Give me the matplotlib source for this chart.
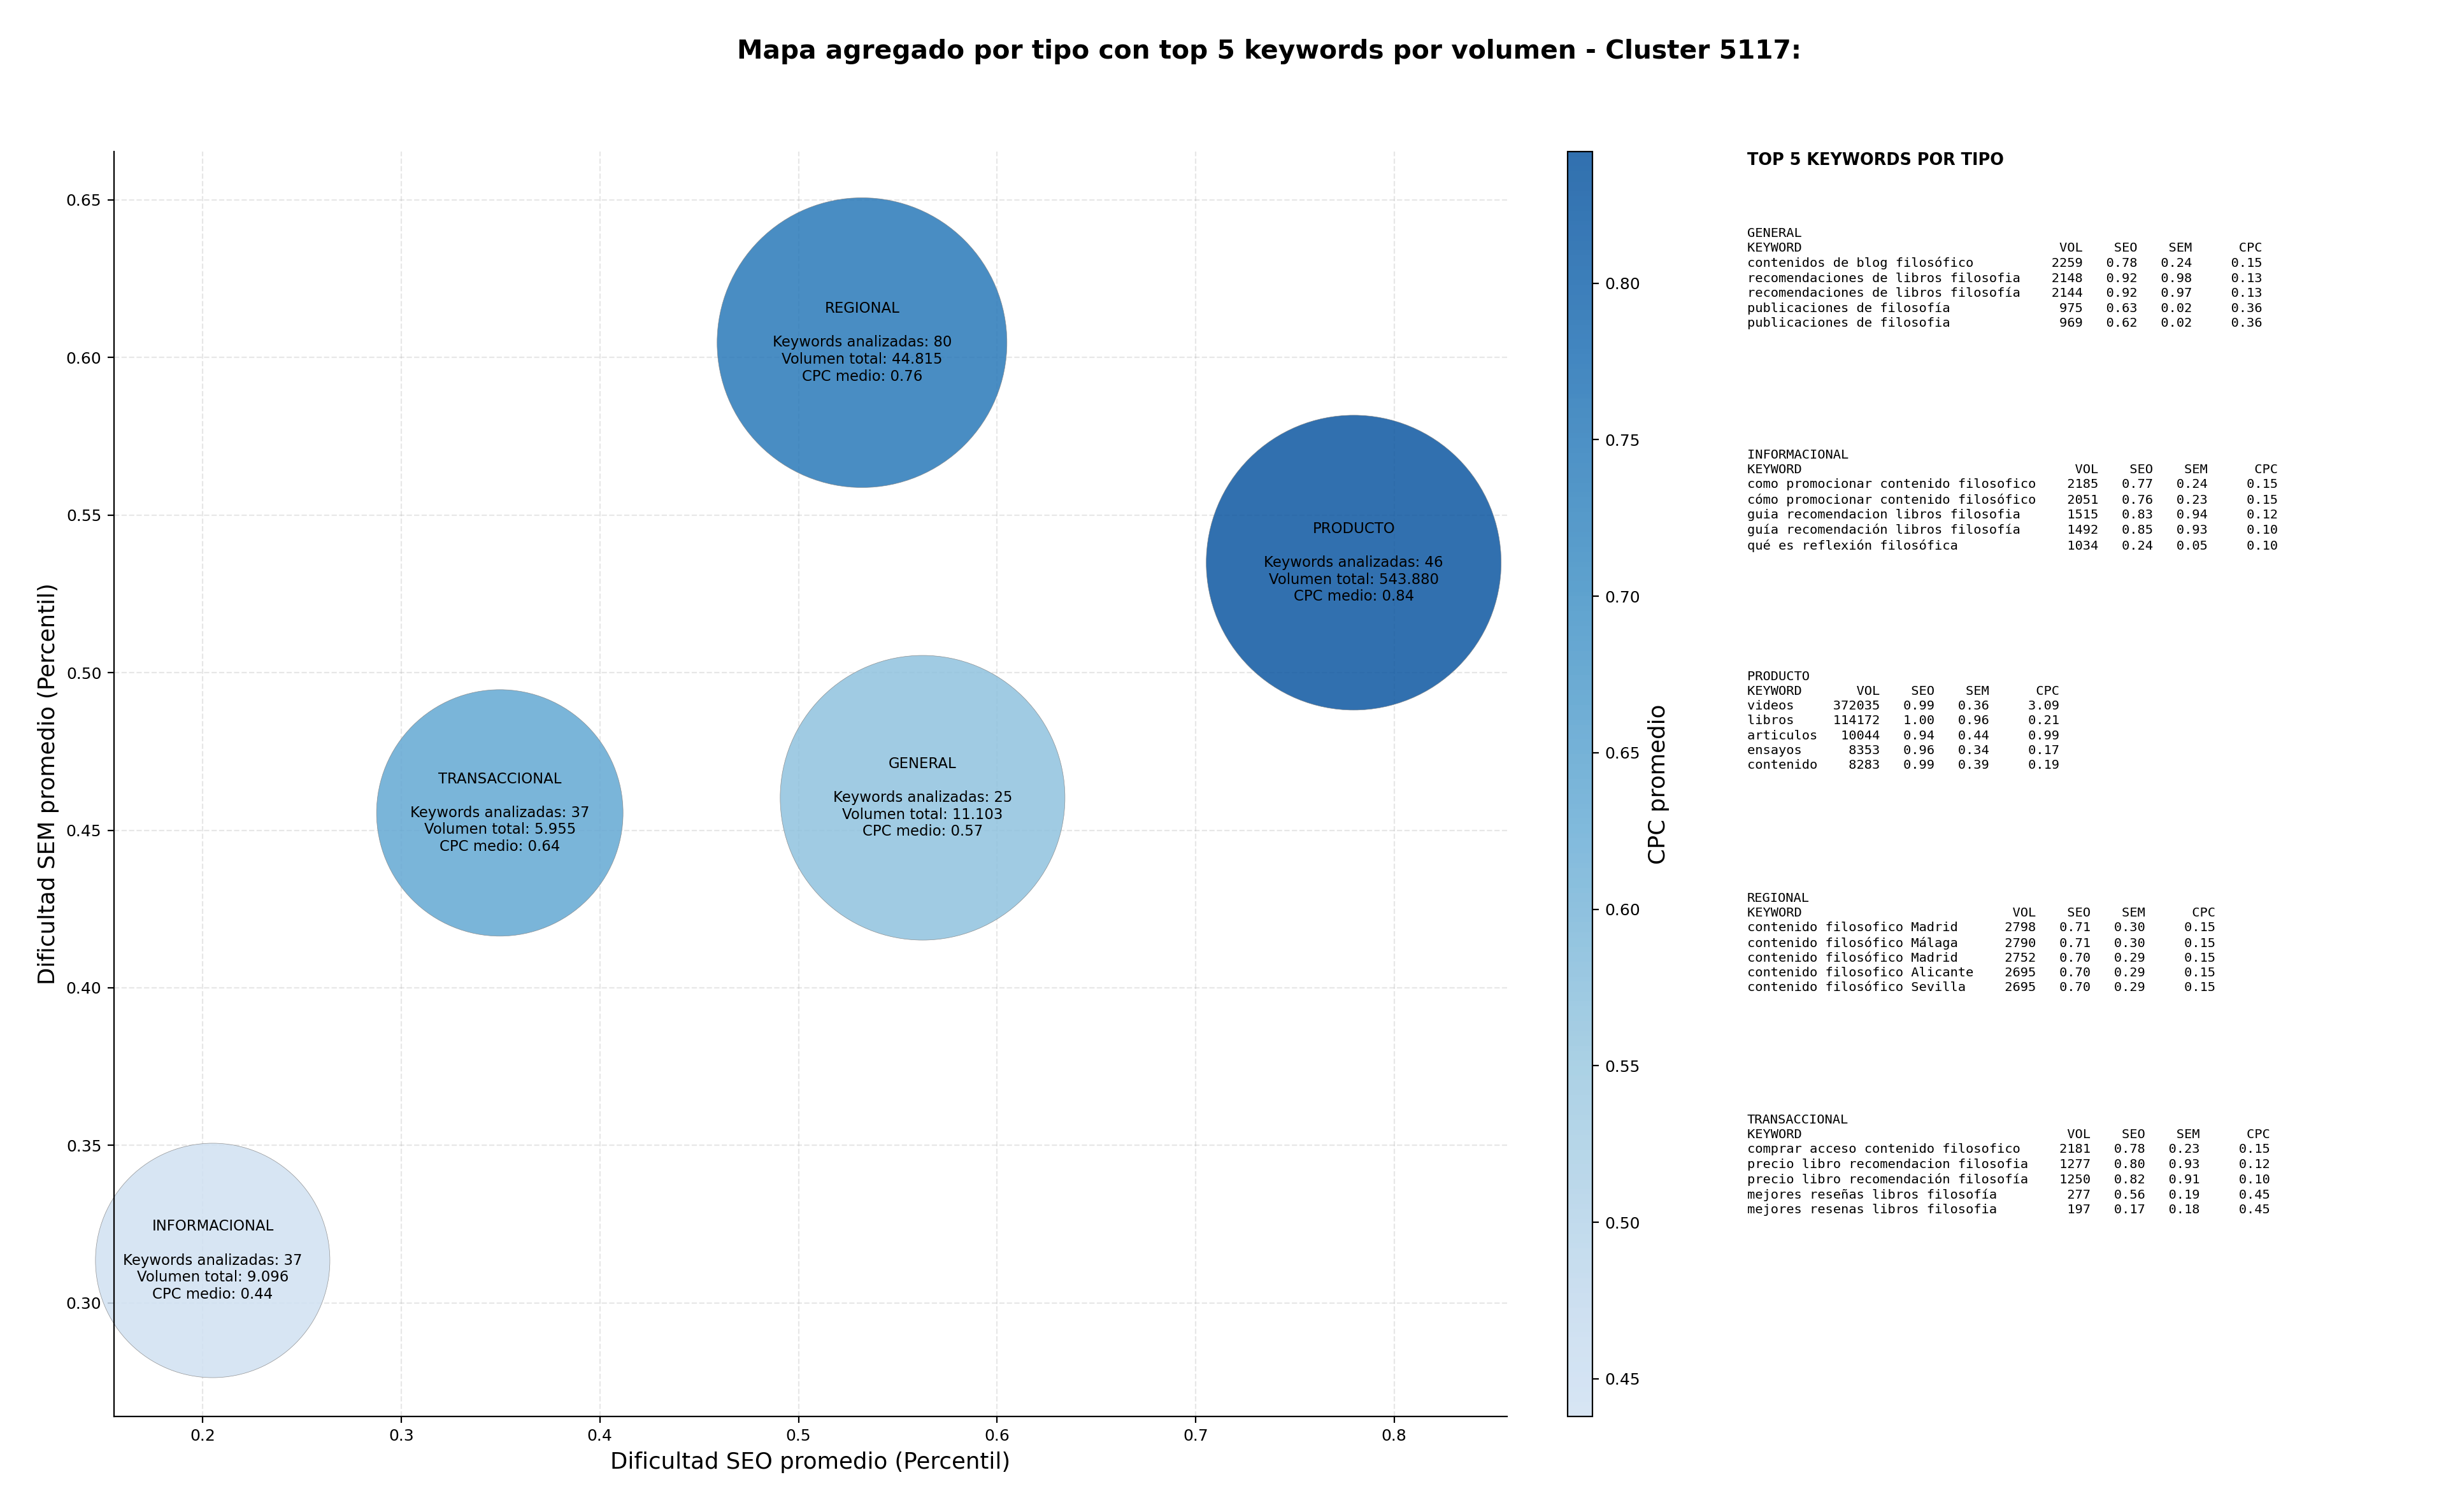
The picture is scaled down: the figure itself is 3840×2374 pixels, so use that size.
import matplotlib
matplotlib.use("Agg")
import matplotlib.pyplot as plt
from matplotlib.colors import LinearSegmentedColormap
import numpy as np

# datos agregados por tipo
tipos = ["GENERAL", "INFORMACIONAL", "PRODUCTO", "REGIONAL", "TRANSACCIONAL"]
seo_medio = [0.5625, 0.205, 0.7796, 0.532, 0.3496]
sem_medio = [0.4603, 0.3135, 0.5349, 0.6047, 0.4555]
cpc_medio = [0.57, 0.438, 0.842, 0.76, 0.64]
n_keywords = [25, 37, 46, 80, 37]
volumen_total = [11103, 9096, 543880, 44815, 5955]
# area de burbuja (pt^2)
area_burbuja = [25896, 17556, 27782, 26830, 19408]

# top 5 keywords por tipo: (keyword, vol, seo, sem, cpc)
top_general = [
    ("contenidos de blog filosófico", 2259, 0.78, 0.24, 0.15),
    ("recomendaciones de libros filosofia", 2148, 0.92, 0.98, 0.13),
    ("recomendaciones de libros filosofía", 2144, 0.92, 0.97, 0.13),
    ("publicaciones de filosofía", 975, 0.63, 0.02, 0.36),
    ("publicaciones de filosofia", 969, 0.62, 0.02, 0.36),
]
top_informacional = [
    ("como promocionar contenido filosofico", 2185, 0.77, 0.24, 0.15),
    ("cómo promocionar contenido filosófico", 2051, 0.76, 0.23, 0.15),
    ("guia recomendacion libros filosofia", 1515, 0.83, 0.94, 0.12),
    ("guía recomendación libros filosofía", 1492, 0.85, 0.93, 0.10),
    ("qué es reflexión filosófica", 1034, 0.24, 0.05, 0.10),
]
top_producto = [
    ("videos", 372035, 0.99, 0.36, 3.09),
    ("libros", 114172, 1.00, 0.96, 0.21),
    ("articulos", 10044, 0.94, 0.44, 0.99),
    ("ensayos", 8353, 0.96, 0.34, 0.17),
    ("contenido", 8283, 0.99, 0.39, 0.19),
]
top_regional = [
    ("contenido filosofico Madrid", 2798, 0.71, 0.30, 0.15),
    ("contenido filosófico Málaga", 2790, 0.71, 0.30, 0.15),
    ("contenido filosófico Madrid", 2752, 0.70, 0.29, 0.15),
    ("contenido filosofico Alicante", 2695, 0.70, 0.29, 0.15),
    ("contenido filosófico Sevilla", 2695, 0.70, 0.29, 0.15),
]
top_transaccional = [
    ("comprar acceso contenido filosofico", 2181, 0.78, 0.23, 0.15),
    ("precio libro recomendacion filosofia", 1277, 0.80, 0.93, 0.12),
    ("precio libro recomendación filosofía", 1250, 0.82, 0.91, 0.10),
    ("mejores reseñas libros filosofía", 277, 0.56, 0.19, 0.45),
    ("mejores resenas libros filosofia", 197, 0.17, 0.18, 0.45),
]
tops = [top_general, top_informacional, top_producto, top_regional, top_transaccional]

fig = plt.figure(figsize=(19.2, 11.87), dpi=200)
ax = fig.add_axes([0.0466, 0.0632, 0.5695, 0.8365])
cax = fig.add_axes([0.6409, 0.0632, 0.0102, 0.8365])

cmap = LinearSegmentedColormap.from_list("blues_t", plt.cm.Blues(np.linspace(0.2, 0.85, 256)))

sc = ax.scatter(seo_medio, sem_medio, s=area_burbuja, c=cpc_medio, cmap=cmap,
                alpha=0.85, edgecolors="grey", linewidths=0.25, clip_on=False)

for i, t in enumerate(tipos):
    vol = f"{volumen_total[i]:,}".replace(",", ".")
    txt = f"{t}\n\nKeywords analizadas: {n_keywords[i]}\nVolumen total: {vol}\nCPC medio: {cpc_medio[i]:.2f}"
    ax.text(seo_medio[i], sem_medio[i], txt, ha="center", va="center", fontsize=8.2)

ax.set_xlim(0.1553, 0.8568)
ax.set_ylim(0.264, 0.6653)
ax.set_xticks([0.2, 0.3, 0.4, 0.5, 0.6, 0.7, 0.8])
ax.set_yticks([0.30, 0.35, 0.40, 0.45, 0.50, 0.55, 0.60, 0.65])
ax.tick_params(labelsize=9)
ax.grid(True, linestyle="--", alpha=0.3)
ax.set_axisbelow(True)
ax.spines["top"].set_visible(False)
ax.spines["right"].set_visible(False)
ax.set_xlabel("Dificultad SEO promedio (Percentil)", fontsize=12.8)
ax.set_ylabel("Dificultad SEM promedio (Percentil)", fontsize=12.8)

cb = fig.colorbar(sc, cax=cax)
cb.set_label("CPC promedio", fontsize=12.8)
cb.ax.tick_params(labelsize=9)

fig.text(0.519, 0.9659, "Mapa agregado por tipo con top 5 keywords por volumen - Cluster 5117:",
         ha="center", va="center", fontsize=14.7, fontweight="bold")

# panel de texto con top keywords
fig.text(0.7143, 0.8940, "TOP 5 KEYWORDS POR TIPO", ha="left", va="center",
         fontsize=9.2, fontweight="bold")
for i, t in enumerate(tipos):
    rows = tops[i]
    w = max(len(r[0]) for r in rows)
    lines = [t, f"{'KEYWORD':<{w}}{'VOL':>8}{'SEO':>7}{'SEM':>7}{'CPC':>9}"]
    for kw, v, s1, s2, c in rows:
        lines.append(f"{kw:<{w}}{v:>8}{s1:>7.2f}{s2:>7.2f}{c:>9.2f}")
    fig.text(0.7143, 0.8497 - i * 0.1466, "\n".join(lines), ha="left", va="top",
             fontsize=7.35, family="DejaVu Sans Mono", linespacing=1.28)

fig.savefig("out.png", dpi=200)
